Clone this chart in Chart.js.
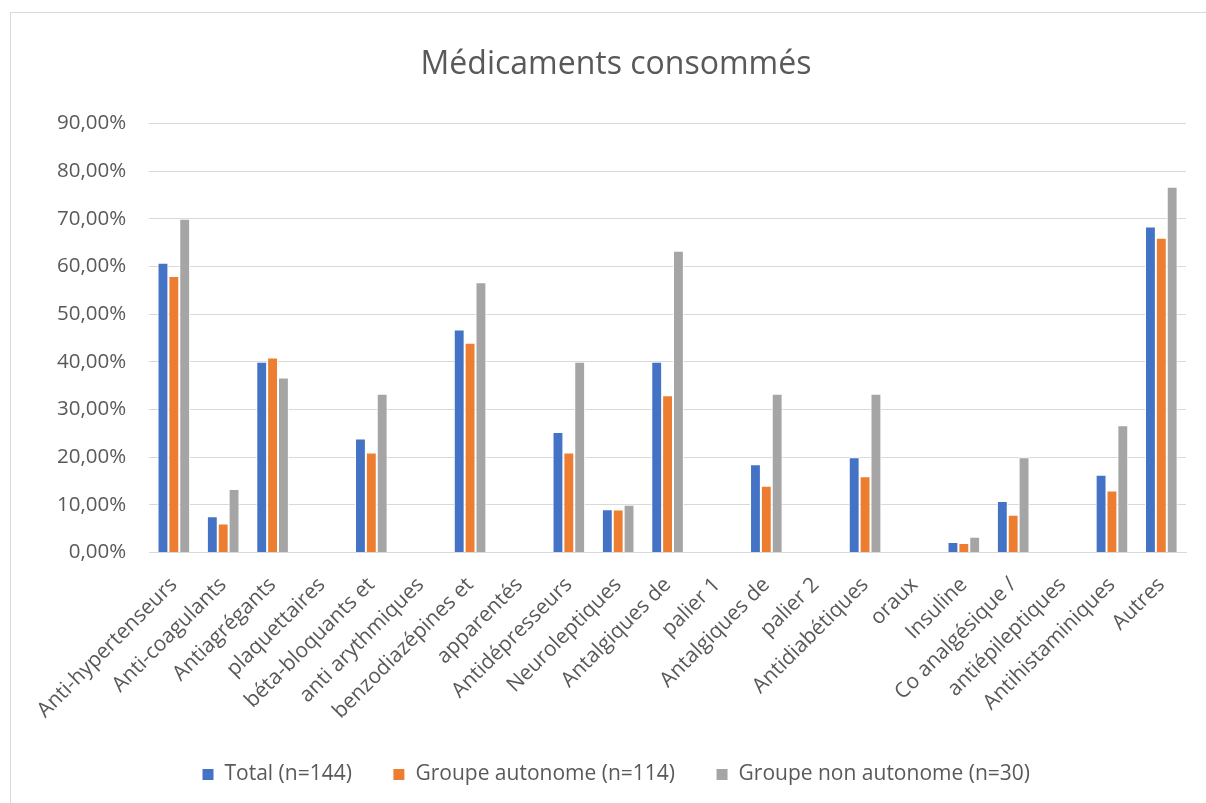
<!DOCTYPE html>
<html>
<head>
<meta charset="utf-8">
<script src="https://cdn.jsdelivr.net/npm/chart.js@4/dist/chart.umd.min.js"></script>
<style>
  html, body { margin: 0; padding: 0; background: #fff; overflow: hidden; }
  #frame {
    position: absolute; left: 10px; top: 12px;
    width: 1230px; height: 830px;
    border: 1px solid #d9d9d9; background: #fff;
  }
  #wrap { position: absolute; left: 0; top: 0; width: 1211px; height: 790px; }
</style>
</head>
<body>
<div id="frame"><div id="wrap"><canvas id="chart"></canvas></div></div>
<script>
// catégories (les libellés coupés sur deux lignes forment des catégories vides dans l'original)
const categories = [
  'Anti-hypertenseurs', 'Anti-coagulants', 'Antiagrégants', 'plaquettaires',
  'béta-bloquants et', 'anti arythmiques', 'benzodiazépines et', 'apparentés',
  'Antidépresseurs', 'Neuroleptiques', 'Antalgiques de', 'palier 1',
  'Antalgiques de', 'palier 2', 'Antidiabétiques', 'oraux', 'Insuline',
  'Co analgésique /', 'antiépileptiques', 'Antihistaminiques', 'Autres'
];
const total = [60.8, 7.6, 40.0, null, 23.9, null, 46.8, null, 25.3, 9.1, 40.0, null,
  18.5, null, 20.0, null, 2.2, 10.8, null, 16.3, 68.4];
const autonome = [58.0, 6.1, 40.9, null, 21.0, null, 44.0, null, 21.0, 9.0, 33.0, null,
  14.0, null, 16.0, null, 2.0, 7.9, null, 13.0, 66.0];
const nonAutonome = [70.0, 13.3, 36.7, null, 33.3, null, 56.7, null, 40.0, 10.0, 63.3, null,
  33.3, null, 33.3, null, 3.3, 20.0, null, 26.7, 76.7];
const seriesNames = ['Total (n=144)', 'Groupe autonome (n=114)', 'Groupe non autonome (n=30)'];
const yTicks = [0, 10, 20, 30, 40, 50, 60, 70, 80, 90];

const txt = '#595959';
const fontFam = "'Open Sans', 'DejaVu Sans', sans-serif";

function serie(label, data, color) {
  return {
    label: label,
    data: data,
    backgroundColor: color,
    borderColor: '#ffffff',
    borderWidth: 1,
    borderSkipped: 'start',
    categoryPercentage: 0.66,
    barPercentage: 1.0
  };
}

new Chart(document.getElementById('chart'), {
  type: 'bar',
  data: {
    labels: categories,
    datasets: [
      serie(seriesNames[0], total, '#4472C4'),
      serie(seriesNames[1], autonome, '#ED7D31'),
      serie(seriesNames[2], nonAutonome, '#A5A5A5')
    ]
  },
  options: {
    responsive: true,
    maintainAspectRatio: false,
    animation: false,
    layout: { padding: { left: 35, right: 36, top: 0, bottom: 8 } },
    scales: {
      x: {
        grid: { display: false },
        border: { color: '#d9d9d9', width: 1 },
        ticks: {
          color: txt,
          font: { family: fontFam, size: 21 },
          minRotation: 45,
          maxRotation: 45,
          autoSkip: false,
          padding: 12
        },
        // le premier libellé incliné ne doit pas décaler la zone de tracé
        afterFit: function (scale) {
          scale.paddingLeft = 0;
          scale.height -= 13;
        }
      },
      y: {
        min: 0,
        max: 90,
        afterBuildTicks: function (axis) {
          axis.ticks = yTicks.map(v => ({ value: v }));
        },
        afterFit: function (scale) { scale.width -= 12; },
        grid: { color: '#d9d9d9', lineWidth: 1, drawTicks: false },
        border: { display: false },
        ticks: {
          color: txt,
          font: { family: fontFam, size: 20.5 },
          padding: 23,
          callback: v => v.toFixed(2).replace('.', ',') + '%'
        }
      }
    },
    plugins: {
      title: {
        display: true,
        text: 'Médicaments consommés',
        color: txt,
        font: { family: fontFam, size: 32, weight: 'normal' },
        padding: { top: 33, bottom: 39 }
      },
      legend: {
        position: 'bottom',
        labels: {
          color: txt,
          font: { family: fontFam, size: 21 },
          boxWidth: 12,
          boxHeight: 12,
          padding: 41
        }
      },
      tooltip: { enabled: false }
    }
  }
});
</script>
</body>
</html>
